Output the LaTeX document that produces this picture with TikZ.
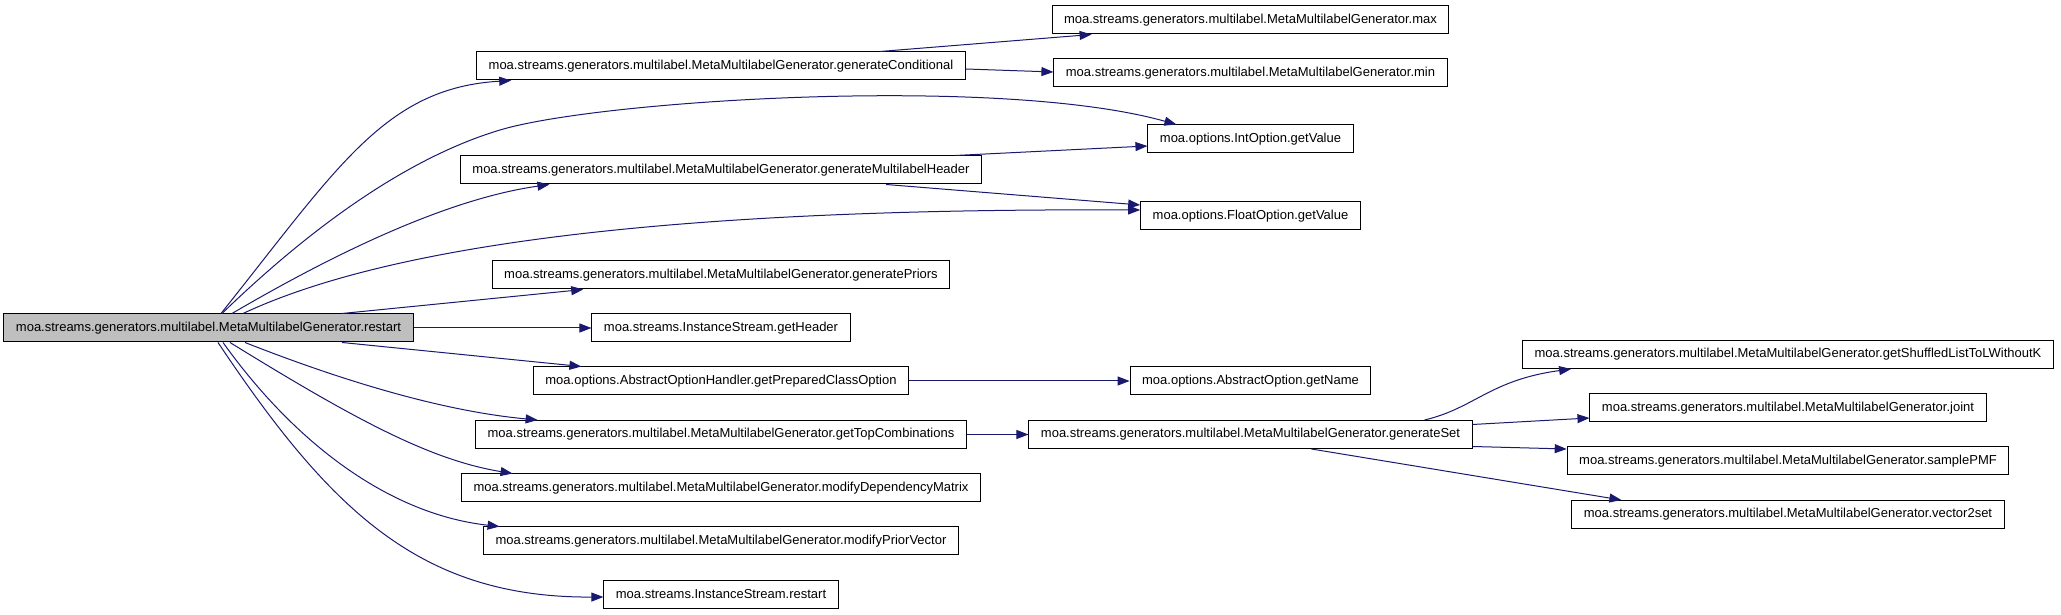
\documentclass[tikz,border=0pt]{standalone}
\usepackage{fontspec}
\setsansfont{Liberation Sans}
\usetikzlibrary{arrows.meta}

\begin{document}
\begin{tikzpicture}[
  x=1pt,y=1pt,
  >={Triangle[length=12pt,width=9pt]},
  font=\sffamily\fontsize{13}{15}\selectfont,
  box/.style={rectangle,draw=black,line width=1pt,fill=white,
              minimum height=28pt,inner xsep=12pt,inner ysep=0pt},
  call/.style={->,line width=1pt,draw=cedge},
]
  \definecolor{cedge}{HTML}{191970}
  \definecolor{croot}{HTML}{BFBFBF}
  \useasboundingbox (0,0) rectangle (2061,615);

  % caller
  \node[box,fill=croot] (root) at (208.5,287) {moa.streams.generators.multilabel.MetaMultilabelGenerator.restart};

  % first level calls
  \node[box] (gcond) at (721,549)   {moa.streams.generators.multilabel.MetaMultilabelGenerator.generateConditional};
  \node[box] (gmlh)  at (721,445)   {moa.streams.generators.multilabel.MetaMultilabelGenerator.generateMultilabelHeader};
  \node[box] (gpri)  at (721,340)   {moa.streams.generators.multilabel.MetaMultilabelGenerator.generatePriors};
  \node[box] (ghead) at (721,287)   {moa.streams.InstanceStream.getHeader};
  \node[box] (gpco)  at (721,234)   {moa.options.AbstractOptionHandler.getPreparedClassOption};
  \node[box] (gtop)  at (721,180.5) {moa.streams.generators.multilabel.MetaMultilabelGenerator.getTopCombinations};
  \node[box] (mdep)  at (721,127)   {moa.streams.generators.multilabel.MetaMultilabelGenerator.modifyDependencyMatrix};
  \node[box] (mpri)  at (721,74)    {moa.streams.generators.multilabel.MetaMultilabelGenerator.modifyPriorVector};
  \node[box] (isrst) at (721,20.5)  {moa.streams.InstanceStream.restart};

  % second level calls
  \node[box] (max)   at (1250.5,595)   {moa.streams.generators.multilabel.MetaMultilabelGenerator.max};
  \node[box] (min)   at (1250.5,542)   {moa.streams.generators.multilabel.MetaMultilabelGenerator.min};
  \node[box] (intv)  at (1250.5,476)   {moa.options.IntOption.getValue};
  \node[box] (fltv)  at (1250.5,399)   {moa.options.FloatOption.getValue};
  \node[box] (gname) at (1250.5,234)   {moa.options.AbstractOption.getName};
  \node[box] (gset)  at (1250.5,180.5) {moa.streams.generators.multilabel.MetaMultilabelGenerator.generateSet};

  % third level calls
  \node[box] (shuf)  at (1788,260.5) {moa.streams.generators.multilabel.MetaMultilabelGenerator.getShuffledListToLWithoutK};
  \node[box] (joint) at (1788,207)   {moa.streams.generators.multilabel.MetaMultilabelGenerator.joint};
  \node[box] (spmf)  at (1788,154)   {moa.streams.generators.multilabel.MetaMultilabelGenerator.samplePMF};
  \node[box] (v2s)   at (1788,100.5) {moa.streams.generators.multilabel.MetaMultilabelGenerator.vector2set};

  % calls from restart, upper side
  \draw[call] ([xshift=12.5]root.north) .. controls (338,448) and (385,527) .. ([xshift=35]gcond.south west);
  \draw[call] ([xshift=13.5]root.north) .. controls (301,378) and (400,455) .. (500,485)
                                         .. controls (600,515) and (1000,540) .. ([xshift=29]intv.north west);
  \draw[call] ([xshift=23.5]root.north) .. controls (320,353) and (440,415) .. ([xshift=89.5]gmlh.south west);
  \draw[call] ([xshift=34.5]root.north) .. controls (400,375) and (700,407) .. ([yshift=6]fltv.west);
  \draw[call] ([xshift=133.5]root.north) -- ([xshift=91.5]gpri.south west);
  \draw[call] (root) -- (ghead);

  % calls from restart, lower side
  \draw[call] ([xshift=133.5]root.south) -- ([xshift=48.5]gpco.north west);
  \draw[call] ([xshift=36.5]root.south) .. controls (320,243) and (430,205) .. ([xshift=62.5]gtop.north west);
  \draw[call] ([xshift=21.5]root.south) .. controls (354,196) and (430,155) .. ([xshift=51.5]mdep.north west);
  \draw[call] ([xshift=14.5]root.south) .. controls (300,165) and (395,100) .. ([xshift=16.5]mpri.north west);
  \draw[call] ([xshift=9.5]root.south) .. controls (330,105) and (420,17) .. ([yshift=-2.5]isrst.west);

  % second level
  \draw[call] ([xshift=-86]gcond.north east) -- ([xshift=40]max.south west);
  \draw[call] ([yshift=-3]gcond.east) -- ([yshift=1]min.west);
  \draw[call] ([xshift=-27]gmlh.north east) -- ([yshift=-7]intv.west);
  \draw[call] ([xshift=-96]gmlh.south east) -- ([yshift=11]fltv.west);
  \draw[call] (gpco) -- (gname);
  \draw[call] (gtop) -- (gset);

  % third level
  \draw[call] ([xshift=-48]gset.north east) .. controls (1475,207) and (1490,235) .. ([xshift=49]shuf.south west);
  \draw[call] ([yshift=10]gset.east) -- ([yshift=-10]joint.west);
  \draw[call] ([yshift=-12]gset.east) -- ([yshift=12]spmf.west);
  \draw[call] ([xshift=283]gset.south west) -- ([xshift=50]v2s.north west);
\end{tikzpicture}
\end{document}
